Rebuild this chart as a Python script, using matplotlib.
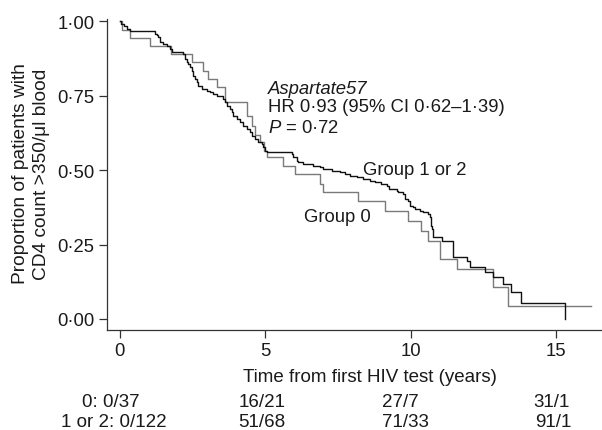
import matplotlib
matplotlib.use("Agg")
import matplotlib.pyplot as plt
import matplotlib.transforms as mtransforms

plt.rcParams['font.family'] = ['Liberation Sans', 'DejaVu Sans']
plt.rcParams['mathtext.fontset'] = 'custom'
plt.rcParams['mathtext.rm'] = 'Liberation Sans'
plt.rcParams['mathtext.it'] = 'Liberation Sans:italic'

# Group 0 (Kaplan-Meier step data)
t_group0 = [0, 0.1, 0.35, 1.05, 1.78, 2.48, 2.88, 3.05, 3.34, 3.63, 4.37, 4.54, 4.66, 4.83,
            4.95, 5.06, 5.63, 6.03, 6.89, 7.00, 8.21, 9.12, 9.92, 10.35, 10.6, 11.0, 11.6,
            12.85, 13.36, 16.2]
s_group0 = [1.0, 0.973, 0.946, 0.919, 0.892, 0.863, 0.835, 0.807, 0.780, 0.729, 0.684, 0.650,
            0.617, 0.594, 0.566, 0.543, 0.515, 0.487, 0.454, 0.426, 0.398, 0.364, 0.330, 0.297,
            0.263, 0.202, 0.168, 0.107, 0.045, 0.045]

# Group 1 or 2
t_group12 = [0, 0.05, 0.15, 0.25, 0.35, 1.22, 1.28, 1.33, 1.39, 1.5, 1.62, 1.74, 1.79, 2.19,
             2.25, 2.31, 2.37, 2.42, 2.48, 2.54, 2.59, 2.65, 2.71, 2.82, 3.0, 3.11, 3.22, 3.34,
             3.57, 3.63, 3.68, 3.80, 3.86, 3.91, 4.03, 4.14, 4.25, 4.37, 4.48, 4.54, 4.66, 4.77,
             4.89, 4.94, 5.0, 5.06, 5.92, 5.97, 6.09, 6.14, 6.32, 6.66, 6.89, 7.0, 7.29, 7.58,
             7.75, 7.92, 8.15, 8.38, 8.61, 8.78, 9.0, 9.18, 9.25, 9.53, 9.58, 9.75, 9.81, 9.92,
             9.98, 10.1, 10.15, 10.33, 10.44, 10.61, 10.67, 10.70, 10.73, 10.76, 11.07, 11.47,
             11.93, 12.04, 12.55, 12.84, 13.19, 13.44, 13.78, 15.3]
s_group12 = [1.0, 0.992, 0.984, 0.975, 0.967, 0.958, 0.953, 0.947, 0.930, 0.924, 0.919, 0.908,
             0.896, 0.891, 0.874, 0.863, 0.857, 0.846, 0.835, 0.818, 0.807, 0.796, 0.784, 0.773,
             0.767, 0.762, 0.756, 0.751, 0.741, 0.729, 0.717, 0.706, 0.695, 0.683, 0.672, 0.661,
             0.650, 0.639, 0.628, 0.616, 0.605, 0.594, 0.588, 0.577, 0.566, 0.560, 0.555, 0.543,
             0.532, 0.527, 0.521, 0.515, 0.510, 0.504, 0.498, 0.493, 0.487, 0.482, 0.476, 0.471,
             0.465, 0.459, 0.454, 0.448, 0.437, 0.431, 0.426, 0.420, 0.403, 0.398, 0.381, 0.375,
             0.370, 0.364, 0.358, 0.353, 0.342, 0.314, 0.303, 0.275, 0.263, 0.207, 0.196, 0.174,
             0.157, 0.140, 0.118, 0.090, 0.054, 0.0]

x_ticks = [0, 5, 10, 15]
x_tick_labels = ["0", "5", "10", "15"]
y_ticks = [0, 0.25, 0.5, 0.75, 1.0]
y_tick_labels = ["0·00", "0·25", "0·50", "0·75", "1·00"]

risk_times = [0, 5, 10, 15]
risk_group0 = ["0: 0/37", "16/21", "27/7", "31/1"]
risk_group12 = ["1 or 2: 0/122", "51/68", "71/33", "91/1"]

fig = plt.figure(figsize=(6.02, 4.31), dpi=100)
ax = fig.add_axes([107/602, 100/431, 495/602, 311/431])

ax.step(t_group0, s_group0, where='post', color='#7a7a7a', lw=1.0)
ax.step(t_group12, s_group12, where='post', color='#111111', lw=1.0)

ax.set_xlim(-0.43, 16.58)
ax.set_ylim(-0.037, 1.0084)
ax.set_xticks(x_ticks)
ax.set_xticklabels(x_tick_labels)
ax.set_yticks(y_ticks)
ax.set_yticklabels(y_tick_labels)
ax.tick_params(direction='out', length=6, width=0.9, colors='#333333',
               labelsize=13.3, labelcolor='#1a1a1a', pad=3)
for side in ['top', 'right']:
    ax.spines[side].set_visible(False)
for side in ['left', 'bottom']:
    ax.spines[side].set_color('#333333')
    ax.spines[side].set_linewidth(0.9)

tc = '#1a1a1a'
fs = 13.3
ax.text(5.1, 0.776, "Aspartate57", fontsize=fs, style='italic', va='center', ha='left', color=tc)
ax.text(5.1, 0.713, "HR 0·93 (95% CI 0·62–1·39)", fontsize=fs, va='center', ha='left', color=tc)
ax.text(5.1, 0.645, r"$\it{P}$ = 0·72", fontsize=fs, va='center', ha='left', color=tc)
ax.text(8.37, 0.504, "Group 1 or 2", fontsize=fs, va='center', ha='left', color=tc)
ax.text(6.34, 0.346, "Group 0", fontsize=fs, va='center', ha='left', color=tc)

trans = mtransforms.blended_transform_factory(ax.transData, fig.transFigure)
ax.text(8.6, 1 - 378/431, "Time from first HIV test (years)", transform=trans,
        fontsize=13.5, ha='center', va='center', color=tc)

row0_offsets = [-0.29, -0.1, -0.36, -0.17]
row12_offsets = [-0.19, -0.1, -0.19, -0.1]
for t, lab, off in zip(risk_times, risk_group0, row0_offsets):
    ax.text(t + off, 1 - 403/431, lab, transform=trans, fontsize=13.5,
            ha='center', va='center', color=tc)
for t, lab, off in zip(risk_times, risk_group12, row12_offsets):
    ax.text(t + off, 1 - 423/431, lab, transform=trans, fontsize=13.5,
            ha='center', va='center', color=tc)

fig.text(31/602, 1 - 174/431, "Proportion of patients with\nCD4 count >350/μl blood",
         rotation=90, ha='center', va='center', fontsize=13.8, color=tc, linespacing=1.3,
         multialignment='center')

fig.savefig("out.png", dpi=100, facecolor='white')
